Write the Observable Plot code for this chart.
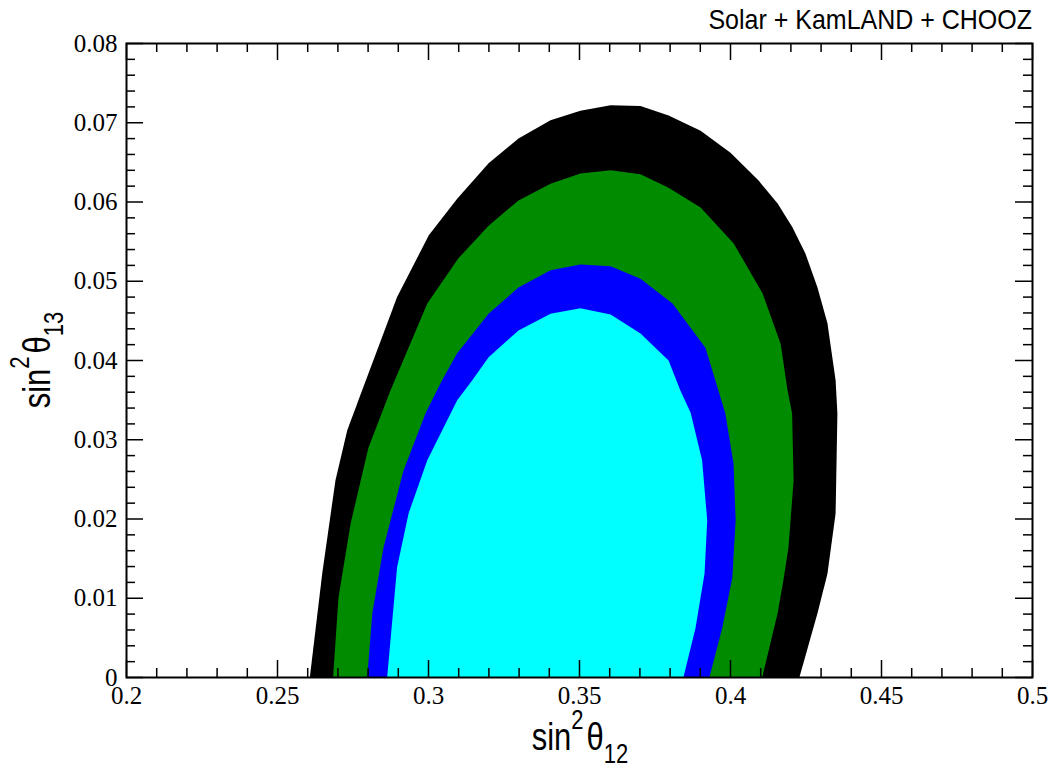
<!DOCTYPE html>
<html><head><meta charset="utf-8">
<script src="https://cdn.jsdelivr.net/npm/d3@7"></script>
<script src="https://cdn.jsdelivr.net/npm/@observablehq/plot@0.6"></script>
<style>body{margin:0;background:#fff}</style>
</head><body><div id="chart"></div>
<script>
const xTicks = [0.2, 0.25, 0.3, 0.35, 0.4, 0.45, 0.5];
const xTickLabels = ["0.2", "0.25", "0.3", "0.35", "0.4", "0.45", "0.5"];
const yTicks = [0, 0.01, 0.02, 0.03, 0.04, 0.05, 0.06, 0.07, 0.08];
const yTickLabels = ["0", "0.01", "0.02", "0.03", "0.04", "0.05", "0.06", "0.07", "0.08"];
const xMinor = d3.range(21, 50).filter(v => v % 5 !== 0).map(v => v / 100);
const yMinor = d3.range(1, 40).filter(v => v % 5 !== 0).map(v => v * 0.002);

const titleText = "Solar + KamLAND + CHOOZ";

// contour regions, [sin^2 theta12, sin^2 theta13]
const black = [[0.2607,0],[0.2648,0.0131],[0.2692,0.0249],[0.2731,0.0312],[0.2780,0.0362],[0.2896,0.0480],[0.3001,0.0558],[0.3095,0.0604],[0.3199,0.0649],[0.3298,0.0680],[0.3404,0.0703],[0.3503,0.0715],[0.3603,0.0722],[0.3702,0.0721],[0.3795,0.0709],[0.3901,0.0690],[0.4000,0.0662],[0.4093,0.0627],[0.4156,0.0598],[0.4205,0.0568],[0.4248,0.0535],[0.4288,0.0492],[0.4321,0.0447],[0.4348,0.0375],[0.4354,0.0333],[0.4348,0.0207],[0.4321,0.0131],[0.4288,0.0081],[0.4228,0]];
const green = [[0.2684,0],[0.2702,0.0101],[0.2742,0.0194],[0.2801,0.0290],[0.2874,0.0362],[0.2996,0.0472],[0.3099,0.0529],[0.3199,0.0570],[0.3298,0.0602],[0.3404,0.0623],[0.3503,0.0636],[0.3603,0.0640],[0.3702,0.0635],[0.3795,0.0618],[0.3901,0.0593],[0.4010,0.0548],[0.4106,0.0485],[0.4166,0.0421],[0.4189,0.0362],[0.4204,0.0333],[0.4209,0.0249],[0.4192,0.0164],[0.4175,0.0122],[0.4156,0.0081],[0.4105,0]];
const blue = [[0.2797,0],[0.2814,0.0081],[0.2851,0.0164],[0.2917,0.0261],[0.2990,0.0333],[0.3045,0.0375],[0.3095,0.0409],[0.3199,0.0459],[0.3298,0.0492],[0.3404,0.0514],[0.3503,0.0521],[0.3603,0.0519],[0.3702,0.0503],[0.3808,0.0472],[0.3917,0.0416],[0.3960,0.0362],[0.3983,0.0333],[0.4010,0.0270],[0.4017,0.0198],[0.4006,0.0126],[0.3973,0.0063],[0.3930,0]];
const cyan = [[0.2863,0],[0.2896,0.0139],[0.2934,0.0207],[0.2996,0.0274],[0.3095,0.0350],[0.3145,0.0375],[0.3199,0.0404],[0.3298,0.0438],[0.3404,0.0459],[0.3503,0.0466],[0.3603,0.0458],[0.3702,0.0434],[0.3795,0.0400],[0.3834,0.0362],[0.3868,0.0334],[0.3906,0.0274],[0.3923,0.0198],[0.3914,0.0131],[0.3884,0.0062],[0.3844,0]];

const regions = [
  {data: black, color: "#000000"},
  {data: green, color: "#008b00"},
  {data: blue, color: "#0000ff"},
  {data: cyan, color: "#00ffff"}
];

const W = 1052, H = 771, mL = 126, mR = 20, mT = 43, mB = 94;
const fw = W - mL - mR, fh = H - mT - mB;
const major = 17, minor = 9;
const tickStyle = {stroke: "black", strokeWidth: 1.5};

const plot = Plot.plot({
  width: W, height: H,
  marginLeft: mL, marginRight: mR, marginTop: mT, marginBottom: mB,
  x: {domain: [0.2, 0.5]},
  y: {domain: [0, 0.08]},
  style: {fontFamily: "'Liberation Serif', 'DejaVu Serif', serif", fontSize: "25px", background: "white", color: "black"},
  marks: [
    ...regions.map(r => Plot.line(r.data, {x: d => d[0], y: d => d[1], fill: r.color, stroke: "none"})),
    Plot.tickX(xTicks, {x: d => d, insetTop: fh - major, ...tickStyle}),
    Plot.tickX(xTicks, {x: d => d, insetBottom: fh - major, ...tickStyle}),
    Plot.tickX(xMinor, {x: d => d, insetTop: fh - minor, ...tickStyle}),
    Plot.tickX(xMinor, {x: d => d, insetBottom: fh - minor, ...tickStyle}),
    Plot.tickY(yTicks, {y: d => d, insetRight: fw - major, ...tickStyle}),
    Plot.tickY(yTicks, {y: d => d, insetLeft: fw - major, ...tickStyle}),
    Plot.tickY(yMinor, {y: d => d, insetRight: fw - minor, ...tickStyle}),
    Plot.tickY(yMinor, {y: d => d, insetLeft: fw - minor, ...tickStyle}),
    Plot.frame({stroke: "black", strokeWidth: 2}),
    Plot.axisX(xTicks, {tickSize: 0, tickPadding: 9, tickFormat: d => xTickLabels[xTicks.indexOf(d)], label: null, fontSize: 25}),
    Plot.axisY(yTicks, {tickSize: 0, tickPadding: 9, tickFormat: d => yTickLabels[yTicks.indexOf(d)], label: null, fontSize: 25})
  ]
});

const svg = d3.select(plot);
const sans = "'Liberation Sans', Arial, sans-serif";

svg.append("text")
  .attr("transform", "translate(1032,29) scale(1,1.1)")
  .attr("text-anchor", "end")
  .attr("font-family", sans)
  .attr("font-size", 25)
  .attr("fill", "black")
  .text(titleText);

function axisLabel(transform, sub) {
  const t = svg.append("text")
    .attr("transform", transform)
    .attr("text-anchor", "middle")
    .attr("font-family", sans)
    .attr("font-size", 31)
    .attr("fill", "black");
  t.append("tspan").text("sin");
  t.append("tspan").attr("font-size", 22).attr("dy", -17).text("2");
  t.append("tspan").attr("dy", 17).attr("dx", 3).text("θ");
  t.append("tspan").attr("font-size", 22).attr("dy", 10).text(sub);
}
axisLabel("translate(580,750) scale(1,1.25)", "12");
axisLabel("translate(50,360) rotate(-90) scale(1,1.25)", "13");

document.getElementById("chart").append(plot);
</script>
</body></html>
